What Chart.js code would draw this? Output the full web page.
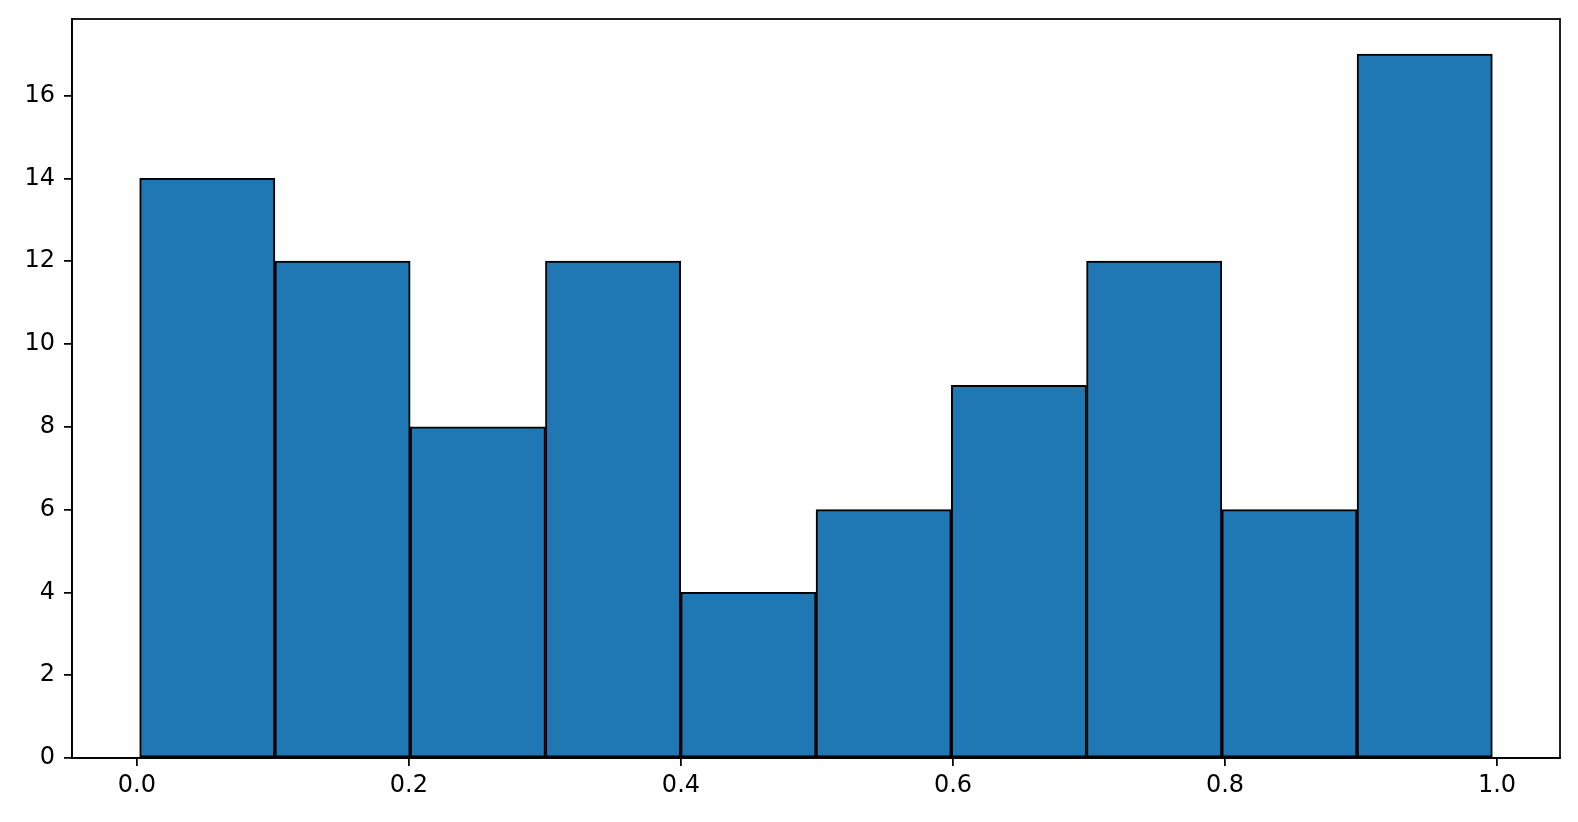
<!DOCTYPE html>
<html>
<head>
<meta charset="utf-8">
<script src="https://cdn.jsdelivr.net/npm/chart.js@4.4.1/dist/chart.umd.min.js"></script>
<style>
  html, body { margin: 0; padding: 0; background: #ffffff; }
  #wrap { width: 1578px; height: 822px; position: relative; }
</style>
</head>
<body>
<div id="wrap"><canvas id="c" width="1578" height="822"></canvas></div>
<script>
// Histogram bin edges (10 bins) and counts
const binEdges = [0.0020, 0.1015, 0.2009, 0.3004, 0.3998, 0.4993, 0.5988, 0.6982, 0.7977, 0.8971, 0.9966];
const counts = [14, 12, 8, 12, 4, 6, 9, 12, 6, 17];
const xTickValues = [0.0, 0.2, 0.4, 0.6, 0.8, 1.0];
const yTickValues = [0, 2, 4, 6, 8, 10, 12, 14, 16];

const points = counts.map((c, i) => ({ x: (binEdges[i] + binEdges[i + 1]) / 2, y: c }));
const dataMin = binEdges[0], dataMax = binEdges[binEdges.length - 1];
const span = dataMax - dataMin;
const yMax = Math.max(...counts) * 1.05;

const frame = {
  id: 'frame',
  afterDraw(chart) {
    const { ctx, chartArea: a } = chart;
    ctx.save();
    ctx.strokeStyle = '#000';
    ctx.lineWidth = 1.75;
    ctx.strokeRect(a.left, a.top, a.right - a.left, a.bottom - a.top);
    ctx.restore();
  }
};

const font = { family: 'DejaVu Sans', size: 24 };

new Chart(document.getElementById('c'), {
  type: 'bar',
  data: {
    datasets: [{
      data: points,
      backgroundColor: '#1f77b4',
      borderColor: '#000000',
      borderWidth: 2,
      borderSkipped: false,
      barPercentage: 1.0,
      categoryPercentage: 1.0
    }]
  },
  options: {
    responsive: false,
    animation: false,
    events: [],
    layout: { padding: { left: 0, top: 19, right: 18, bottom: 0 } },
    plugins: { legend: { display: false }, tooltip: { enabled: false } },
    scales: {
      x: {
        type: 'linear',
        offset: false,
        min: dataMin - 0.05 * span,
        max: dataMax + 0.05 * span,
        afterBuildTicks(scale) { scale.ticks = xTickValues.map(v => ({ value: v })); },
        afterFit(scale) { scale.height = 64; scale.paddingLeft = 0; scale.paddingRight = 0; },
        ticks: {
          color: '#000',
          font: font,
          padding: 5,
          maxRotation: 0,
          autoSkip: false,
          callback: v => Number(v).toFixed(1)
        },
        grid: { display: true, offset: false, drawOnChartArea: false, drawTicks: true, tickLength: 8, color: '#000', lineWidth: 1.75 },
        border: { display: true, color: '#000', width: 1.75 }
      },
      y: {
        min: 0,
        max: yMax,
        afterBuildTicks(scale) { scale.ticks = yTickValues.map(v => ({ value: v })); },
        afterFit(scale) { scale.width = 72; scale.paddingTop = 0; scale.paddingBottom = 0; },
        ticks: { color: '#000', font: font, padding: 9, autoSkip: false, callback: v => String(v) },
        grid: { display: true, offset: false, drawOnChartArea: false, drawTicks: true, tickLength: 8, color: '#000', lineWidth: 1.75 },
        border: { display: true, color: '#000', width: 1.75 }
      }
    }
  },
  plugins: [frame]
});
</script>
</body>
</html>
